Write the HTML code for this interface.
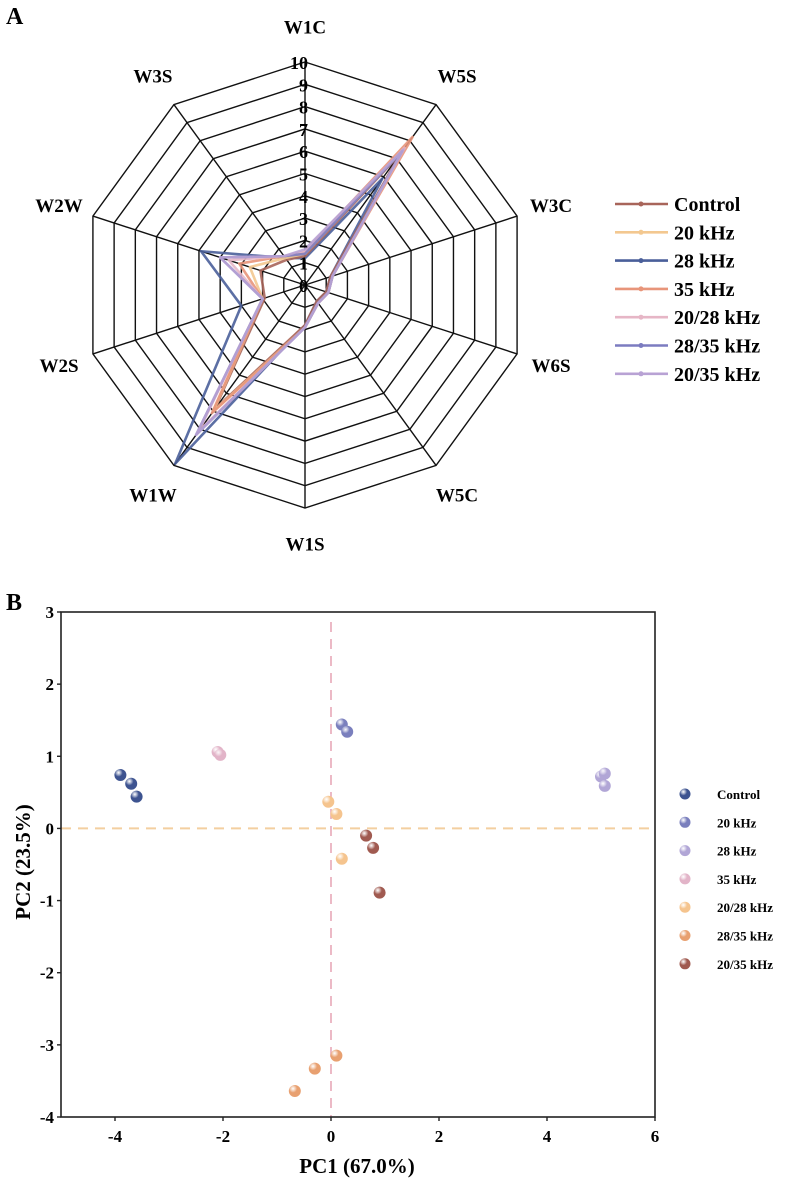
<!DOCTYPE html>
<html><head><meta charset="utf-8"><style>
html,body{margin:0;padding:0;background:#fff;}
svg{display:block;font-family:"Liberation Serif",serif;font-weight:bold;}
</style></head><body>
<svg id="s" width="789" height="1182" viewBox="0 0 789 1182">
<text x="6" y="24" font-size="24">A</text>
<text x="6" y="610" font-size="24">B</text>
<g id="radar"></g>
<g id="pca"></g>
</svg>
<script>
const axesNames=["W1C","W5S","W3C","W6S","W5C","W1S","W1W","W2S","W2W","W3S"];
const seriesNames=["Control","20 kHz","28 kHz","35 kHz","20/28 kHz","28/35 kHz","20/35 kHz"];
const seriesColors=["#a8655a","#f3c890","#4a5f9a","#e8957a","#e6b6c6","#7c7cc0","#b8a2d4"];
const vControl=[1.3,7.3,1.2,1.0,0.9,1.8,6.9,1.9,2.1,1.4];
const v20=[1.4,7.5,1.3,1.1,1.0,1.9,7.0,2.0,2.6,1.5];
const v28=[1.2,5.9,1.2,1.0,0.9,1.8,9.9,3.0,4.9,1.5];
const v35=[1.5,8.2,1.3,1.1,1.0,1.9,7.1,2.0,3.1,1.6];
const v2028=[1.5,7.6,1.3,1.1,1.0,1.9,8.1,2.0,3.6,1.6];
const v2835=[1.4,7.4,1.3,1.1,1.0,1.9,8.3,2.0,4.0,1.6];
const v2035=[1.6,7.5,1.3,1.1,1.0,1.9,8.3,2.0,4.0,1.6];
const radarTicks=[0,1,2,3,4,5,6,7,8,9,10];

const pcaGroups=["Control","20 kHz","28 kHz","35 kHz","20/28 kHz","28/35 kHz","20/35 kHz"];
const pcaColors=["#3d5390","#7a7fbd","#b1a6d6","#e2b4c8","#f5c48e","#e8a070","#a05a50"];
const pcaX=[[-3.9,-3.7,-3.6],[0.2,0.3],[5.0,5.07,5.07],[-2.1,-2.05],[-0.05,0.1,0.2],[0.1,-0.3,-0.67],[0.65,0.78,0.9]];
const pcaY=[[0.74,0.62,0.44],[1.44,1.34],[0.72,0.76,0.59],[1.06,1.02],[0.37,0.2,-0.42],[-3.15,-3.33,-3.64],[-0.1,-0.27,-0.89]];
const xTicks=[-4,-2,0,2,4,6];
const yTicks=[-4,-3,-2,-1,0,1,2,3];

const NS="http://www.w3.org/2000/svg";
function mk(p,t,a){const e=document.createElementNS(NS,t);for(const k in a)e.setAttribute(k,a[k]);p.appendChild(e);return e;}

// Radar
const R=document.getElementById('radar');
const cx=305,cy=285,rMax=223;
function rr(v){return v/10*rMax;}
function pt(i,v){const a=i*Math.PI*2/axesNames.length;return [cx+rr(v)*Math.sin(a),cy-rr(v)*Math.cos(a)];}
radarTicks.forEach(t=>{if(t===0)return;
 const pts=axesNames.map((_,i)=>pt(i,t).join(',')).join(' ');
 const g=mk(R,'polygon',{points:pts,fill:'none',stroke:'#111','stroke-width':1.4});
 
 });
axesNames.forEach((n,i)=>{const p=pt(i,10);
 const l=mk(R,'line',{x1:cx,y1:cy,x2:p[0],y2:p[1],stroke:'#111','stroke-width':1.4});
 
 
 const q=pt(i,11.6);
 const t=mk(R,'text',{x:q[0],y:q[1]+7,'font-size':19,'text-anchor':'middle'});t.textContent=n;
 
 });
const radarVals=[vControl,v20,v28,v35,v2028,v2835,v2035];
const drawOrder=[2,0,1,3,4,5,6];
drawOrder.forEach(s=>{const pts=radarVals[s].map((v,i)=>pt(i,v).join(',')).join(' ');
 const p=mk(R,'polygon',{points:pts,fill:'none',stroke:seriesColors[s],'stroke-width':2.6,'stroke-linejoin':'round','stroke-opacity':0.9});
 
 });
radarTicks.forEach(t=>{const p=pt(0,t);
 const e=mk(R,'text',{x:p[0]+3,y:p[1]+7,'font-size':18,'text-anchor':'end'});e.textContent=t;
 
 });
seriesNames.forEach((n,i)=>{const y=204+i*28.3;
 const l=mk(R,'line',{x1:615,y1:y,x2:668,y2:y,stroke:seriesColors[i],'stroke-width':2.6});
 
 
 const c=mk(R,'circle',{cx:641,cy:y,r:2.5,fill:seriesColors[i]});
 
 
 const t=mk(R,'text',{x:674,y:y+7,'font-size':20});t.textContent=n;
 
 });

// PCA
const P=document.getElementById('pca');
const L=61,Rr=655,T=612,B=1117;
function sx(v){return L+(v+5)/11*(Rr-L);}
function sy(v){return B-(v+4)/7*(B-T);}
const hl=mk(P,'line',{x1:L,y1:sy(0),x2:Rr,y2:sy(0),stroke:'#f3cfa0','stroke-width':2,'stroke-dasharray':'10,7'});


const vl=mk(P,'line',{x1:sx(0),y1:622,x2:sx(0),y2:B,stroke:'#e8a8b8','stroke-width':1.6,'stroke-dasharray':'10,7'});


const fr=mk(P,'rect',{x:L,y:T,width:Rr-L,height:B-T,fill:'none',stroke:'#222','stroke-width':1.6});


xTicks.forEach(t=>{const x=sx(t);
 const l=mk(P,'line',{x1:x,y1:B,x2:x,y2:B+4,stroke:'#222','stroke-width':1.4});
 
 
 const e=mk(P,'text',{x:x,y:B+25,'font-size':17,'text-anchor':'middle'});e.textContent=t;
 
 });
yTicks.forEach(t=>{const y=sy(t);
 const l=mk(P,'line',{x1:L-4,y1:y,x2:L,y2:y,stroke:'#222','stroke-width':1.4});
 
 
 const e=mk(P,'text',{x:L-7,y:y+6,'font-size':17,'text-anchor':'end'});e.textContent=t;
 
 });
const xt=mk(P,'text',{x:357,y:1173,'font-size':21,'text-anchor':'middle'});xt.textContent='PC1 (67.0%)';


const yt=mk(P,'text',{x:0,y:0,'font-size':21,'text-anchor':'middle',transform:'translate(30,862) rotate(-90)'});yt.textContent='PC2 (23.5%)';


const defs=mk(P,'defs',{});
pcaColors.forEach((c,i)=>{const g=mk(defs,'radialGradient',{id:'g'+i,cx:'0.35',cy:'0.3',r:'0.75'});
 mk(g,'stop',{offset:'0','stop-color':'#ffffff','stop-opacity':0.85});
 mk(g,'stop',{offset:'0.45','stop-color':c});
 mk(g,'stop',{offset:'1','stop-color':c});});
pcaGroups.forEach((n,gi)=>{pcaX[gi].forEach((xv,j)=>{
 const c=mk(P,'circle',{cx:sx(xv),cy:sy(pcaY[gi][j]),r:6,fill:'url(#g'+gi+')'});
 
 });
 const y=798+gi*28.3;
 const d=mk(P,'circle',{cx:685,cy:y-4,r:5.5,fill:'url(#g'+gi+')'});
 
 
 const t=mk(P,'text',{x:717,y:y+1,'font-size':13});t.textContent=n;
 
 });
</script>
</body></html>
